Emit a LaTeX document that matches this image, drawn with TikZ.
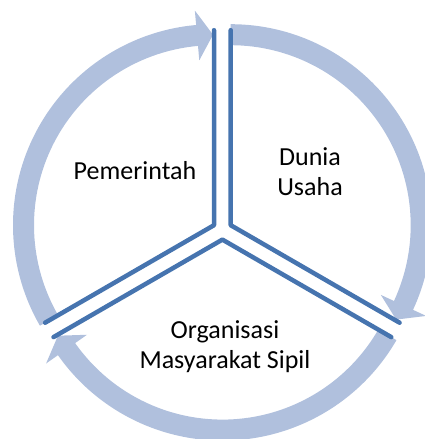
\documentclass[tikz,border=0pt]{standalone}
\usepackage{fontspec}
\setmainfont{Carlito}
\usepackage{tikz}
\usetikzlibrary{positioning,calc}
\definecolor{ringblue}{RGB}{176,192,221}
\definecolor{edgeblue}{RGB}{70,116,175}
\tikzset{
  ringarrow/.style={fill=ringblue, draw=none},
  sectoredge/.style={draw=edgeblue, line width=4.5pt, line cap=round, line join=round},
  sectorlabel/.style={font=\fontsize{26}{30}\selectfont, align=center, text=black, inner sep=0pt},
}

\begin{document}
\begin{tikzpicture}[x=1pt, y=1pt]
  \useasboundingbox (0,0) rectangle (425,-439);
  % apex of each exploded sector
  \coordinate (pc) at (214,-225.2);
  \coordinate (dc) at (230.7,-225.2);
  \coordinate (oc) at (222.4,-239.6);
  % ring arrows: apex/tail/head base/tip
  \foreach \c/\ts/\tb/\tt in {pc/210/95.1/90.3, dc/90/-24.9/-29.7, oc/-30/-144.9/-149.7}
    \fill[ringarrow] (\c) ++(\ts:201pt) arc[start angle=\ts, end angle=\tb, radius=201pt]
      -- ($(\c)+(\tb:215.5pt)$) -- ($(\c)+(\tt:190.5pt)$) -- ($(\c)+(\tb:165.5pt)$)
      -- ($(\c)+(\tb:180pt)$) arc[start angle=\tb, end angle=\ts, radius=180pt] -- cycle;
  % sector edges
  \path (pc) ++(90:195pt) coordinate (p1) (pc) ++(210:195pt) coordinate (p2);
  \path (dc) ++(90:195pt) coordinate (d1) (dc) ++(-30:195pt) coordinate (d2);
  \path (oc) ++(-30:195pt) coordinate (o1) (oc) ++(210:195pt) coordinate (o2);
  \draw[sectoredge] (p1) -- (pc) -- (p2);
  \draw[sectoredge] (d1) -- (dc) -- (d2);
  \draw[sectoredge] (o1) -- (oc) -- (o2);
  % labels
  \node[sectorlabel] (pem) at (135,-171) {Pemerintah};
  \node[sectorlabel] (dun) at (310,-172) {Dunia\\Usaha};
  \node[sectorlabel] (org) at (225,-347) {Organisasi\\Masyarakat Sipil};
\end{tikzpicture}
\end{document}
